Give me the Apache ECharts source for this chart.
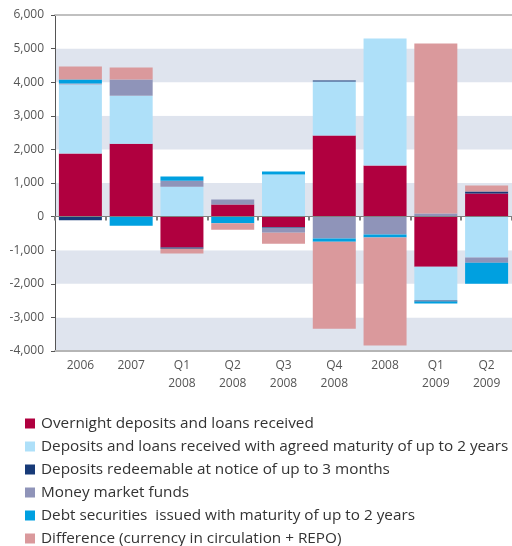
<!DOCTYPE html>
<html>
<head>
<meta charset="utf-8">
<script src="https://cdn.jsdelivr.net/npm/echarts@6/dist/echarts.min.js"></script>
<style>
html,body{margin:0;padding:0;background:#fff;}
#c{width:512px;height:546px;}
</style>
</head>
<body>
<div id="c"></div>
<script>
var categories = ['2006', '2007', 'Q1\n2008', 'Q2\n2008', 'Q3\n2008', 'Q4\n2008', '2008', 'Q1\n2009', 'Q2\n2009'];
var overnight = [1880, 2170, -920, 360, -310, 2410, 1520, -1490, 685];
var agreedMaturity = [2050, 1430, 890, 0, 1250, 1610, 3780, -1010, -1220];
var redeemable = [-110, 0, -40, 0, -20, 30, 0, -30, 60];
var moneyMarket = [30, 480, 180, 150, -150, -655, -535, 90, -150];
var debtSecurities = [120, -270, 120, -200, 90, -90, -90, -60, -625];
var difference = [390, 360, -140, -190, -330, -2590, -3215, 5060, 180];
var seriesNames = [
  'Overnight deposits and loans received',
  'Deposits and loans received with agreed maturity of up to 2 years',
  'Deposits redeemable at notice of up to 3 months',
  'Money market funds',
  'Debt securities  issued with maturity of up to 2 years',
  'Difference (currency in circulation + REPO)'
];
var seriesData = [overnight, agreedMaturity, redeemable, moneyMarket, debtSecurities, difference];
var colors = ['#b0003f', '#aee0f9', '#173a78', '#8f94b9', '#00a0e0', '#da999c'];

var FONT = 'Open Sans';
var chart = echarts.init(document.getElementById('c'), null, {renderer: 'canvas'});
var series = seriesNames.map(function (n, i) {
  return {
    name: n,
    type: 'bar',
    stack: 'total',
    barWidth: 43,
    data: seriesData[i],
    itemStyle: {color: colors[i]},
    emphasis: {disabled: true}
  };
});
var legendText = {fontFamily: FONT, fontSize: 15.3, lineHeight: 15, color: '#333', padding: [0, 0, 0, 1]};
chart.setOption({
  animation: false,
  textStyle: {fontFamily: FONT},
  grid: {left: 55, top: 15, width: 459, height: 336, containLabel: false},
  legend: [
    {
      orient: 'vertical',
      left: 20,
      top: 416,
      padding: [0, 5],
      itemWidth: 10,
      itemHeight: 10,
      itemGap: 8,
      icon: 'rect',
      textStyle: legendText,
      data: seriesNames.slice(0, 5)
    },
    {
      orient: 'vertical',
      left: 20,
      top: 531,
      padding: [0, 5],
      itemWidth: 10,
      itemHeight: 10,
      itemGap: 8,
      icon: 'rect',
      textStyle: legendText,
      data: seriesNames.slice(5)
    }
  ],
  xAxis: [
    {
      type: 'category',
      data: categories,
      position: 'bottom',
      z: 10,
      axisLine: {onZero: true, lineStyle: {color: '#808080', width: 1}},
      axisTick: {show: true, length: 4, lineStyle: {color: '#808080', width: 2}},
      axisLabel: {show: false},
      splitLine: {show: false}
    },
    {
      type: 'category',
      data: categories,
      position: 'bottom',
      axisLine: {onZero: false, lineStyle: {color: '#b5b5b5', width: 2}},
      axisTick: {show: false},
      axisLabel: {color: '#555', fontSize: 12, lineHeight: 18, margin: 6, fontFamily: FONT},
      splitLine: {show: false}
    },
    {
      type: 'category',
      data: categories,
      position: 'top',
      axisLine: {onZero: false, lineStyle: {color: '#c0c0c0', width: 2}},
      axisTick: {show: false},
      axisLabel: {show: false},
      splitLine: {show: false}
    }
  ],
  yAxis: {
    type: 'value',
    min: -4000,
    max: 6000,
    interval: 1000,
    axisLine: {show: true, lineStyle: {color: '#555', width: 1}},
    axisTick: {show: true, length: 4, lineStyle: {color: '#555'}},
    axisLabel: {
      color: '#555', fontSize: 12, margin: 11, fontFamily: FONT,
      formatter: function (v) { return echarts.format.addCommas(v); }
    },
    splitLine: {show: false},
    splitArea: {show: true, areaStyle: {color: ['#dfe4ee', '#ffffff']}}
  },
  series: series
});
</script>
</body>
</html>
